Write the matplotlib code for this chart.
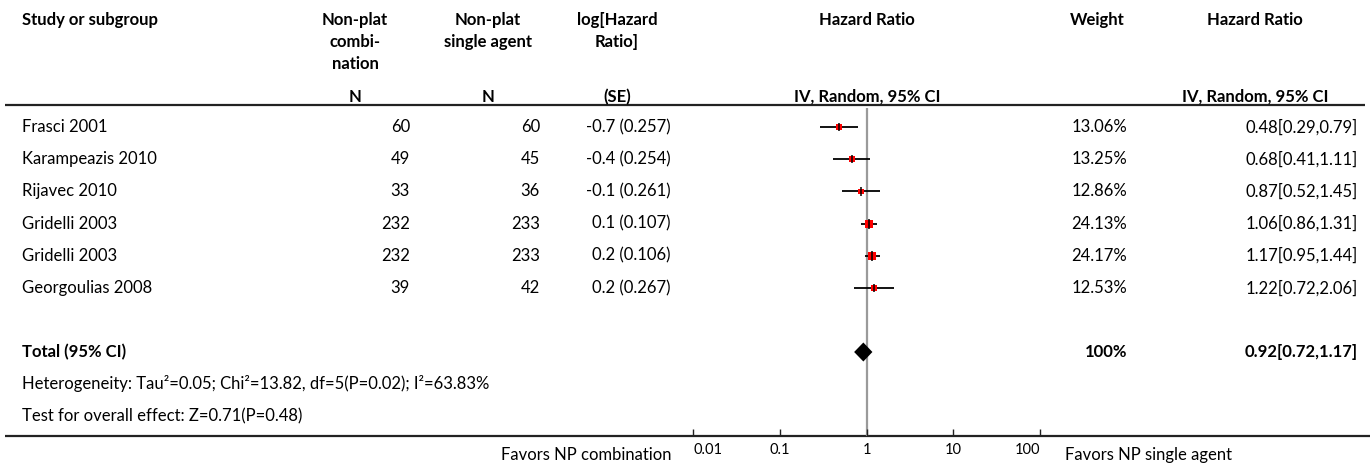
import matplotlib
matplotlib.use("Agg")
import matplotlib.pyplot as plt
import numpy as np

plt.rcParams['font.family'] = ['Lato', 'DejaVu Sans']

# ---- data ----
studies = ["Frasci 2001", "Karampeazis 2010", "Rijavec 2010", "Gridelli 2003",
           "Gridelli 2003", "Georgoulias 2008"]
n_comb = [60, 49, 33, 232, 232, 39]
n_single = [60, 45, 36, 233, 233, 42]
log_hr = ["-0.7 (0.257)", "-0.4 (0.254)", "-0.1 (0.261)", "0.1 (0.107)",
          "0.2 (0.106)", "0.2 (0.267)"]
weights = [13.06, 13.25, 12.86, 24.13, 24.17, 12.53]
hr = [0.48, 0.68, 0.87, 1.06, 1.17, 1.22]
ci_low = [0.29, 0.41, 0.52, 0.86, 0.95, 0.72]
ci_high = [0.79, 1.11, 1.45, 1.31, 1.44, 2.06]
total_hr = 0.92
total_low = 0.72
total_high = 1.17
total_weight = "100%"
heterogeneity = "Heterogeneity: Tau²=0.05; Chi²=13.82, df=5(P=0.02); I²=63.83%"
overall = "Test for overall effect: Z=0.71(P=0.48)"
tick_vals = [0.01, 0.1, 1, 10, 100]
tick_labels = ["0.01", "0.1", "1", "10", "100"]
left_label = "Favors NP combination"
right_label = "Favors NP single agent"

W, H = 1370, 467
fig = plt.figure(figsize=(W / 100, H / 100), dpi=100)
ax0 = fig.add_axes([0, 0, 1, 1])
ax0.set_xlim(0, W)
ax0.set_ylim(H, 0)
ax0.axis('off')

fs = 12
tfs = 10.5

# header
hdr = dict(fontsize=fs, fontweight='bold', va='center')
ax0.text(22, 20, "Study or subgroup", ha='left', **hdr)
for i, line in enumerate(["Non-plat", "combi-", "nation"]):
    ax0.text(355, 20 + 22 * i, line, ha='center', **hdr)
for i, line in enumerate(["Non-plat", "single agent"]):
    ax0.text(488, 20 + 22 * i, line, ha='center', **hdr)
for i, line in enumerate(["log[Hazard", "Ratio]"]):
    ax0.text(617, 20 + 22 * i, line, ha='center', **hdr)
ax0.text(867, 20, "Hazard Ratio", ha='center', **hdr)
ax0.text(1097, 20, "Weight", ha='center', **hdr)
ax0.text(1255, 20, "Hazard Ratio", ha='center', **hdr)
ax0.text(355, 97, "N", ha='center', **hdr)
ax0.text(488, 97, "N", ha='center', **hdr)
ax0.text(617, 97, "(SE)", ha='center', **hdr)
ax0.text(867, 97, "IV, Random, 95% CI", ha='center', **hdr)
ax0.text(1255, 97, "IV, Random, 95% CI", ha='center', **hdr)

ax0.plot([5, 1365], [105, 105], color='#222222', lw=1.6, solid_capstyle='butt')
ax0.plot([5, 1370], [436, 436], color='#222222', lw=1.6, solid_capstyle='butt')

row_y0 = 127
row_dy = 32.2
rows_y = [row_y0 + row_dy * i for i in range(len(studies))]
body = dict(fontsize=fs, va='center')
for y, s, a, b, l, w, h, lo, hi in zip(rows_y, studies, n_comb, n_single, log_hr,
                                       weights, hr, ci_low, ci_high):
    ax0.text(22, y, s, ha='left', **body)
    ax0.text(410, y, str(a), ha='right', **body)
    ax0.text(540, y, str(b), ha='right', **body)
    ax0.text(671, y, l, ha='right', **body)
    ax0.text(1127, y, f"{w:.2f}%", ha='right', **body)
    ax0.text(1358, y, f"{h:.2f}[{lo:.2f},{hi:.2f}]", ha='right', **body)

y_total = 352
ax0.text(22, y_total, "Total (95% CI)", ha='left', fontweight='bold', **body)
ax0.text(1127, y_total, total_weight, ha='right', fontweight='bold', **body)
ax0.text(1358, y_total, f"{total_hr:.2f}[{total_low:.2f},{total_high:.2f}]",
         ha='right', fontweight='bold', **body)
ax0.text(22, 384, heterogeneity, ha='left', **body)
ax0.text(22, 416, overall, ha='left', **body)
ax0.text(672, 455, left_label, ha='right', **body)
ax0.text(1065, 455, right_label, ha='left', **body)

# forest axes
x_left, x_right = 693, 1040
y_top, y_bot = 108, 436
ax = fig.add_axes([x_left / W, (H - y_bot) / H, (x_right - x_left) / W, (y_bot - y_top) / H])
ax.patch.set_alpha(0)
ax.set_xscale('log')
ax.set_xlim(tick_vals[0], tick_vals[-1])
ax.set_ylim(y_bot, y_top)
for sp in ax.spines.values():
    sp.set_visible(False)
ax.set_yticks([])
ax.set_xticks(tick_vals)
ax.set_xticklabels(tick_labels)
ax.minorticks_off()
ax.tick_params(axis='x', direction='in', length=5, width=1, pad=5, labelsize=tfs, color='#222222')
labs = ax.get_xticklabels()
labs[0].set_ha('left')
labs[-1].set_ha('right')

ax.axvline(1, color='#9a9a9a', lw=1.6, zorder=1)

ax.hlines(rows_y, ci_low, ci_high, color='black', lw=1.3, zorder=2)
sides_px = [5.8 * np.sqrt(w / 13.0) for w in weights]
sizes = [(s * 0.72) ** 2 for s in sides_px]
ax.scatter(hr, rows_y, s=sizes, marker='s', color='#ff0000', linewidths=0, zorder=3)
tick_h = [8.5 * (w / 13.0) ** 0.25 for w in weights]
ax.scatter(hr, rows_y, s=[(t * 0.72) ** 2 for t in tick_h], marker='|', color='black',
           linewidths=1.1, zorder=4)

half_h = 9.5
ax.fill([total_low, total_hr, total_high, total_hr],
        [y_total, y_total - half_h, y_total, y_total + half_h],
        color='black', zorder=3, lw=0)

fig.savefig("out.png", dpi=100)
